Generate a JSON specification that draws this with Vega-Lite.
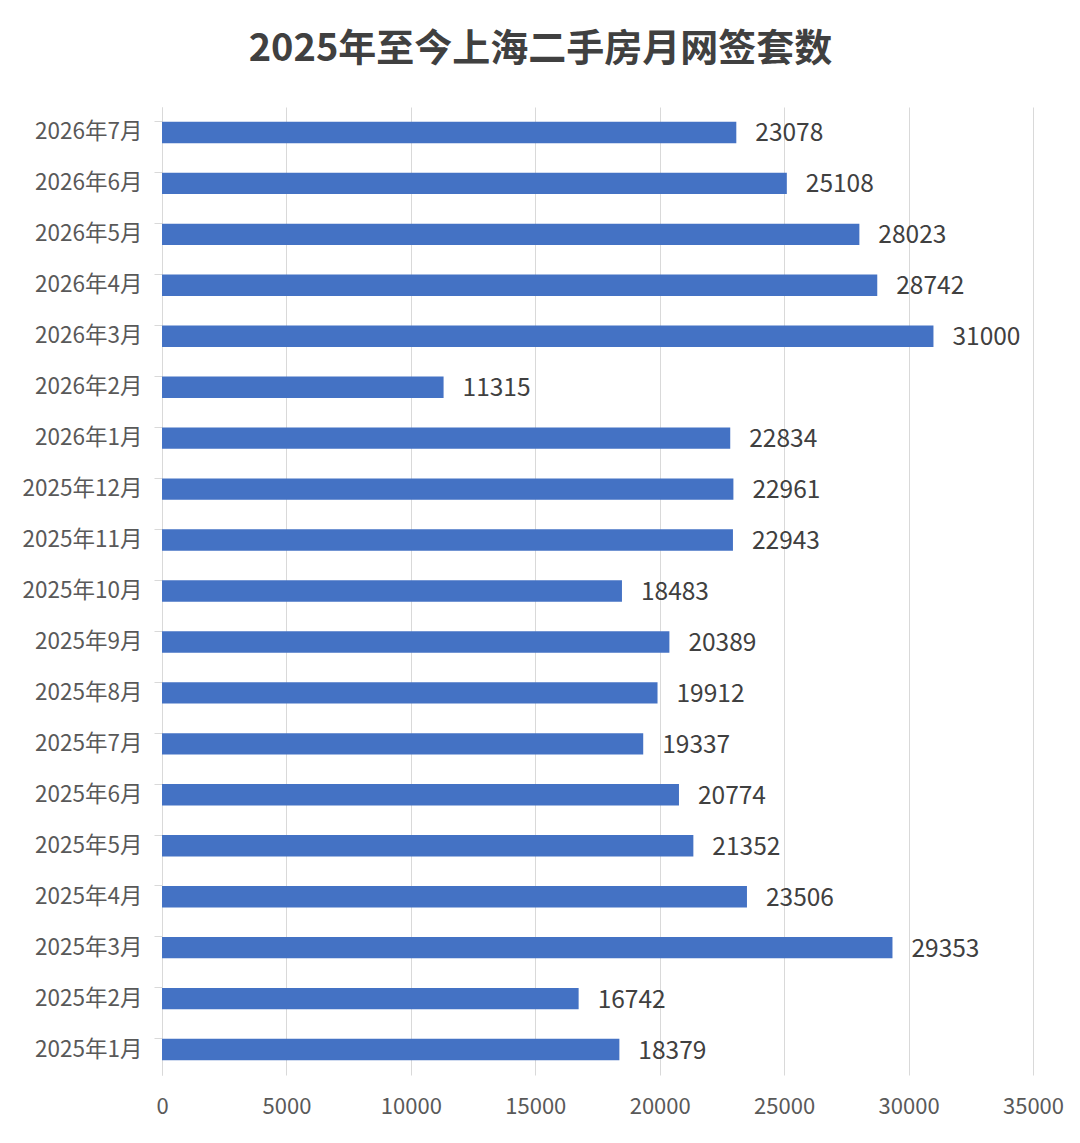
{
  "$schema": "https://vega.github.io/schema/vega-lite/v6.json",
  "autosize": {"type": "none"},
  "width": 871,
  "height": 968,
  "padding": {"left": 162, "top": 107, "right": 47, "bottom": 68},
  "background": "white",
  "title": {
    "text": "2025年至今上海二手房月网签套数",
    "font": "Noto Sans CJK SC",
    "fontSize": 38,
    "fontWeight": "bold",
    "color": "#404040",
    "anchor": "middle",
    "frame": "group",
    "dx": -57,
    "offset": 38
  },
  "config": {
    "view": {"stroke": null},
    "font": "Noto Sans CJK SC"
  },
  "data": {
    "values": [
      {"month": "2026年7月", "count": 23078},
      {"month": "2026年6月", "count": 25108},
      {"month": "2026年5月", "count": 28023},
      {"month": "2026年4月", "count": 28742},
      {"month": "2026年3月", "count": 31000},
      {"month": "2026年2月", "count": 11315},
      {"month": "2026年1月", "count": 22834},
      {"month": "2025年12月", "count": 22961},
      {"month": "2025年11月", "count": 22943},
      {"month": "2025年10月", "count": 18483},
      {"month": "2025年9月", "count": 20389},
      {"month": "2025年8月", "count": 19912},
      {"month": "2025年7月", "count": 19337},
      {"month": "2025年6月", "count": 20774},
      {"month": "2025年5月", "count": 21352},
      {"month": "2025年4月", "count": 23506},
      {"month": "2025年3月", "count": 29353},
      {"month": "2025年2月", "count": 16742},
      {"month": "2025年1月", "count": 18379}
    ]
  },
  "encoding": {
    "y": {
      "field": "month",
      "type": "nominal",
      "sort": null,
      "title": null,
      "scale": {"paddingInner": 0.58, "paddingOuter": 0.29},
      "axis": {
        "bandPosition": 0,
        "domainColor": "#d9d9d9",
        "tickColor": "#d9d9d9",
        "tickSize": 8,
        "labelPadding": 12,
        "labelFont": "Noto Sans CJK SC",
        "labelFontSize": 22.5,
        "labelColor": "#595959",
        "grid": false
      }
    },
    "x": {
      "field": "count",
      "type": "quantitative",
      "title": null,
      "scale": {"domain": [0, 35000], "nice": false},
      "axis": {
        "values": [0, 5000, 10000, 15000, 20000, 25000, 30000, 35000],
        "format": "d",
        "domain": false,
        "ticks": false,
        "grid": true,
        "gridColor": "#d9d9d9",
        "gridWidth": 1,
        "labelFlush": false,
        "labelPadding": 21,
        "labelFont": "Noto Sans CJK SC",
        "labelFontSize": 22,
        "labelColor": "#595959"
      }
    }
  },
  "layer": [
    {
      "mark": {"type": "bar", "color": "#4472C4"}
    },
    {
      "mark": {
        "type": "text",
        "align": "left",
        "baseline": "middle",
        "dx": 19,
        "dy": 2,
        "font": "Noto Sans CJK SC",
        "fontSize": 24.5,
        "color": "#404040"
      },
      "encoding": {
        "text": {"field": "count", "type": "quantitative", "format": "d"}
      }
    }
  ]
}
